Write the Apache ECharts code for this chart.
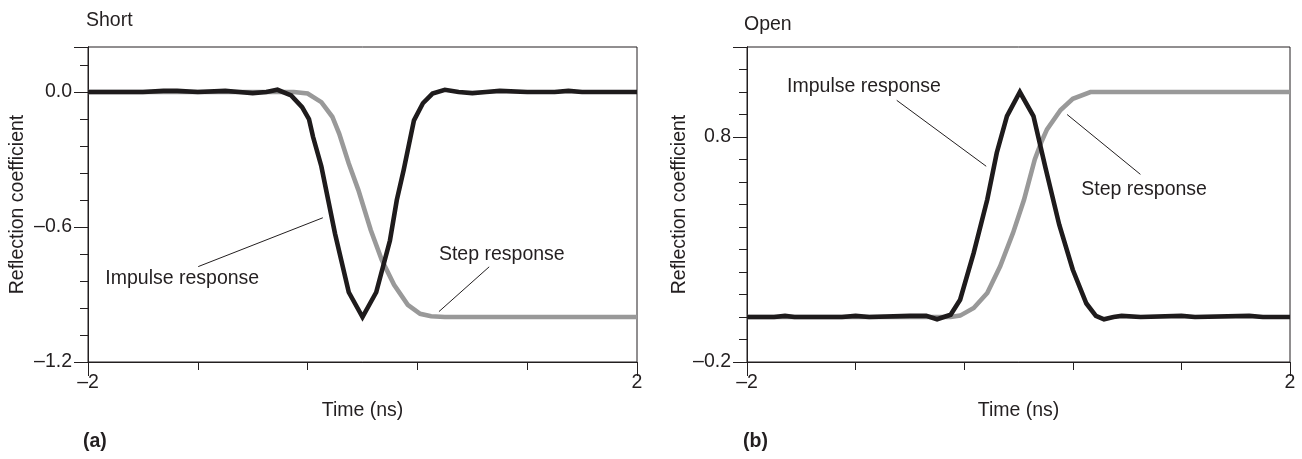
<!DOCTYPE html>
<html><head><meta charset="utf-8">
<script src="https://cdn.jsdelivr.net/npm/echarts@6/dist/echarts.min.js"></script>
<style>html,body{margin:0;padding:0;background:#fff}#c{width:1302px;height:459px}</style>
</head><body><div id="c"></div>
<script>
// ---------- data ----------
// (a) Short
const shortImpulseTime  = [-2,-1.6,-1.45,-1.35,-1.2,-1.0,-0.9,-0.8,-0.7,-0.62,-0.52,-0.44,-0.39,-0.36,-0.3,-0.25,-0.2,-0.1,0,0.1,0.2,0.25,0.3,0.375,0.44,0.51,0.6,0.7,0.8,0.9,1.0,1.2,1.4,1.5,1.6,2];
const shortImpulseValue = [0,0,0.005,0.005,0,0.005,0,-0.005,0,0.01,-0.015,-0.067,-0.12,-0.2,-0.33,-0.48,-0.63,-0.89,-1,-0.89,-0.66,-0.48,-0.347,-0.126,-0.05,-0.007,0.01,0,-0.005,0,0.005,0,0,0.005,0,0];
const shortStepTime  = [-2,-0.5,-0.4,-0.3,-0.22,-0.17,-0.1,-0.03,0.06,0.14,0.23,0.33,0.42,0.5,0.6,2];
const shortStepValue = [0,0,-0.007,-0.045,-0.11,-0.185,-0.318,-0.436,-0.613,-0.746,-0.857,-0.946,-0.986,-0.997,-1,-1];
// (b) Open
const openImpulseTime  = [-2,-1.8,-1.72,-1.65,-1.3,-1.2,-1.1,-0.8,-0.68,-0.6,-0.5,-0.43,-0.33,-0.23,-0.16,-0.085,0.01,0.11,0.2,0.3,0.4,0.5,0.57,0.63,0.7,0.76,0.9,1.2,1.3,1.7,1.8,2];
const openImpulseValue = [0,0,0.005,0,0,0.005,0,0.005,0.005,-0.01,0.01,0.077,0.285,0.522,0.73,0.893,1.0,0.893,0.66,0.41,0.21,0.06,0.005,-0.01,0,0.005,0,0.005,0,0.005,0,0];
const openStepTime  = [-2,-0.5,-0.43,-0.33,-0.23,-0.135,-0.04,0.04,0.12,0.17,0.21,0.31,0.4,0.53,2];
const openStepValue = [0,0,0.006,0.04,0.107,0.225,0.374,0.52,0.7,0.78,0.834,0.92,0.97,1.0,1.0];

// axis ranges and ticks
const timeRange = [-2, 2];
const timeMajorTicks = [-2, 2];
const timeMinorTicks = [-1.2, -0.4, 0.4, 1.2];
const shortRange = [-1.2, 0.2];
const shortLabelTicks = [-1.2, -0.6, 0.0];
const shortMajorTicks = [-1.2, -0.6, 0.0, 0.2];
const shortMinorTicks = [-1.08,-0.96,-0.84,-0.72,-0.48,-0.36,-0.24,-0.12,0.12];
const openRange = [-0.2, 1.2];
const openLabelTicks = [-0.2, 0.8];
const openMajorTicks = [-0.2, 0.8, 1.2];
const openMinorTicks = [-0.1,0,0.1,0.2,0.3,0.4,0.5,0.6,0.7,0.9,1.0,1.1];

// annotations (data coordinates)
const shortImpulseLeader = [[-1.197,-0.776],[-0.289,-0.559]];
const shortStepLeader    = [[0.923,-0.777],[0.557,-0.976]];
const openImpulseLeader  = [[-0.897,0.963],[-0.238,0.670]];
const openStepLeader     = [[0.358,0.90],[0.898,0.634]];
const annotationTexts = [
  {grid:0, text:'Impulse response', at:[-1.874,-0.83]},
  {grid:0, text:'Step response',    at:[0.557,-0.724]},
  {grid:1, text:'Impulse response', at:[-1.705,1.025]},
  {grid:1, text:'Step response',    at:[0.462,0.564]}
];
const panelTitles = ['Short', 'Open'];
const panelLetters = ['(a)', '(b)'];

// ---------- chart ----------
const FONT = '"Liberation Sans", Arial, sans-serif';
const INK = '#231f20';
const FS = 19.5;
const dash = v => String(v).replace('-', '\u2013');
const zip = (a, b) => a.map((t, i) => [t, b[i]]);

function xAxes(gi) {
  const base = {type:'value', gridIndex:gi, min:timeRange[0], max:timeRange[1], position:'bottom', offset:0,
    axisLine:{show:true, onZero:false, lineStyle:{color:INK, width:1}}, splitLine:{show:false}};
  return [
    Object.assign({}, base, {
      axisTick:{show:true, length:14, customValues:timeMajorTicks, lineStyle:{color:INK, width:1}},
      axisLabel:{show:true, customValues:timeMajorTicks, formatter:v=>dash(v), margin:11, color:INK, fontSize:FS, fontFamily:FONT},
      name:'Time (ns)', nameLocation:'middle', nameGap:39,
      nameTextStyle:{color:INK, fontSize:FS, fontFamily:FONT}
    }),
    Object.assign({}, base, {
      axisTick:{show:true, length:8, customValues:timeMinorTicks, lineStyle:{color:INK, width:1}},
      axisLabel:{show:false}
    })
  ];
}
function yAxes(gi, range, labels, major, minor, nameGap) {
  const base = {type:'value', gridIndex:gi, min:range[0], max:range[1], position:'left', offset:0,
    axisLine:{show:true, onZero:false, lineStyle:{color:INK, width:1}}, splitLine:{show:false}};
  return [
    Object.assign({}, base, {
      axisTick:{show:true, length:14, customValues:major, lineStyle:{color:INK, width:1}},
      axisLabel:{show:true, customValues:labels, formatter:v=>dash(v.toFixed(1)), margin:16, color:INK, fontSize:FS, fontFamily:FONT},
      name:'Reflection coefficient', nameLocation:'middle', nameGap:nameGap,
      nameTextStyle:{color:INK, fontSize:FS, fontFamily:FONT}
    }),
    Object.assign({}, base, {
      axisTick:{show:true, length:8, customValues:minor, lineStyle:{color:INK, width:1}},
      axisLabel:{show:false}
    })
  ];
}
function curve(xi, yi, data, color, z) {
  return {type:'line', xAxisIndex:xi, yAxisIndex:yi, data:data, symbol:'none', showSymbol:false,
    lineStyle:{color:color, width:4.6, join:'miter', cap:'butt'}, z:z, silent:true, animation:false};
}
function leader(xi, yi, data) {
  return {type:'line', xAxisIndex:xi, yAxisIndex:yi, data:data, symbol:'none', showSymbol:false,
    lineStyle:{color:INK, width:1}, z:5, silent:true, animation:false};
}

const chart = echarts.init(document.getElementById('c'), null, {renderer:'canvas'});
const gridStyle = {show:true, borderColor:INK, borderWidth:1, containLabel:false, outerBoundsMode:'none'};
chart.setOption({
  animation:false,
  backgroundColor:'#fff',
  grid:[
    Object.assign({left:88, right:665, top:47, bottom:97}, gridStyle),
    Object.assign({left:747, right:12, top:47, bottom:97}, gridStyle)
  ],
  xAxis: xAxes(0).concat(xAxes(1)),
  yAxis: yAxes(0, shortRange, shortLabelTicks, shortMajorTicks, shortMinorTicks, 60)
    .concat(yAxes(1, openRange, openLabelTicks, openMajorTicks, openMinorTicks, 55)),
  series:[
    curve(0, 0, zip(shortStepTime, shortStepValue), '#999999', 2),
    curve(0, 0, zip(shortImpulseTime, shortImpulseValue), '#1e1b1c', 3),
    leader(0, 0, shortImpulseLeader),
    leader(0, 0, shortStepLeader),
    curve(2, 2, zip(openStepTime, openStepValue), '#999999', 2),
    curve(2, 2, zip(openImpulseTime, openImpulseValue), '#1e1b1c', 3),
    leader(2, 2, openImpulseLeader),
    leader(2, 2, openStepLeader)
  ]
});

const txt = (text, x, y, bold) => ({type:'text', x:x, y:y, silent:true,
  style:{text:text, fill:INK, fontSize:FS, fontFamily:FONT, fontWeight:bold?'bold':'normal', align:'left', verticalAlign:'middle'}});
const graphics = [
  txt(panelTitles[0], 86, 21, false),
  txt(panelTitles[1], 744, 25, false),
  txt(panelLetters[0], 83, 442, true),
  txt(panelLetters[1], 743, 442, true)
];
annotationTexts.forEach(a => {
  const p = chart.convertToPixel({xAxisIndex: a.grid*2, yAxisIndex: a.grid*2}, a.at);
  graphics.push(txt(a.text, p[0], p[1], false));
});
chart.setOption({graphic: graphics});
</script>
</body></html>
